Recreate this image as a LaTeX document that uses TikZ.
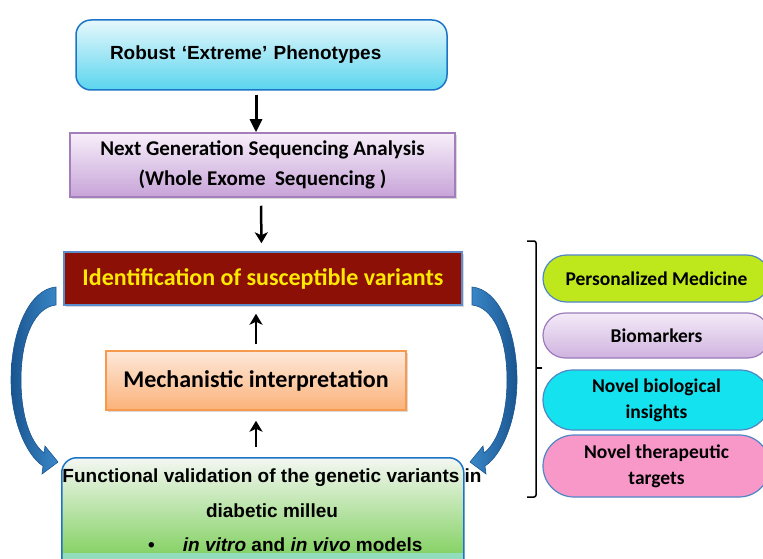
\documentclass[tikz,border=0pt]{standalone}
\usepackage{fontspec}
\setmainfont{Liberation Sans}
\newfontfamily\calibri{Carlito}
\usepackage{tikz}
\usetikzlibrary{shapes.misc, arrows.meta, positioning, calc, shadows}

\definecolor{phenotop}{HTML}{E6F8FC}
\definecolor{phenobot}{HTML}{5AD5EE}
\definecolor{edgeblue}{HTML}{1B74C5}
\definecolor{seqtop}{HTML}{F7EFFA}
\definecolor{seqbot}{HTML}{C7A3D8}
\definecolor{seqedge}{HTML}{A27FBA}
\definecolor{idfill}{HTML}{8C1006}
\definecolor{idedge}{HTML}{5C8CCB}
\definecolor{idtext}{HTML}{FFE900}
\definecolor{mechtop}{HTML}{FDE8DA}
\definecolor{mechbot}{HTML}{FBB279}
\definecolor{mechedge}{HTML}{F79A4E}
\definecolor{functop}{HTML}{F4F7F3}
\definecolor{funcbot}{HTML}{6BC943}
\definecolor{funcstrip}{HTML}{92DDBB}
\definecolor{curvedark}{HTML}{1A5590}
\definecolor{curvelight}{HTML}{3A88C8}
\definecolor{pmfill}{HTML}{BFE81C}
\definecolor{biotop}{HTML}{F4EAF8}
\definecolor{biobot}{HTML}{CFB3DF}
\definecolor{bioedge}{HTML}{9A7CBC}
\definecolor{nbifill}{HTML}{14E2EE}
\definecolor{nttfill}{HTML}{F798C8}
\definecolor{pilledge}{HTML}{4F86C6}

\tikzset{
    base/.style={align=center, inner sep=0pt},
    block/.style={base, rectangle, line width=1.5pt},
    phenobox/.style={block, rounded corners=15pt, draw=edgeblue, top color=phenotop, bottom color=phenobot,
        font=\fontsize{19}{23}\selectfont\bfseries, minimum width=371pt, minimum height=70pt,
        text width=303pt, align=left, inner xsep=34pt},
    seqbox/.style={block, draw=seqedge, top color=seqtop, bottom color=seqbot,
        font=\calibri\fontsize{21}{30}\selectfont\bfseries, minimum width=385pt, minimum height=64pt,
        drop shadow={shadow xshift=1.5pt, shadow yshift=-2pt, opacity=0.3}},
    idbox/.style={block, draw=idedge, fill=idfill, text=idtext,
        font=\calibri\fontsize{24}{30}\selectfont\bfseries, minimum width=398pt, minimum height=53pt,
        drop shadow={shadow xshift=1.5pt, shadow yshift=-2pt, opacity=0.3}},
    mechbox/.style={block, draw=mechedge, top color=mechtop, bottom color=mechbot,
        font=\calibri\fontsize{24}{30}\selectfont\bfseries, minimum width=300pt, minimum height=59pt,
        drop shadow={shadow xshift=1.5pt, shadow yshift=-2pt, opacity=0.3}},
    funcbox/.style={block, rounded corners=15pt, draw=edgeblue, top color=functop, bottom color=funcbot,
        minimum width=402pt, minimum height=120pt},
    functext/.style={base, font=\fontsize{19}{34.5}\selectfont\bfseries},
    pill/.style={base, rounded rectangle, line width=1.2pt, draw=pilledge,
        font=\calibri\fontsize{19.5}{26}\selectfont\bfseries, minimum width=227pt},
    line/.style={draw=black, line width=3pt, -{Stealth[length=11pt, width=13pt, inset=3pt]}},
    curvearrow/.style={left color=curvedark, right color=curvelight, draw=curvedark, line width=0.6pt},
    bracket/.style={draw=black, line width=1.5pt}
}

\begin{document}
\begin{tikzpicture}[x=1pt, y=-1pt]
    \useasboundingbox (0,0) rectangle (763,559);
    \clip (0,0) rectangle (763,559);

    % main column
    \node [phenobox] (pheno) at (261.5,55) {Robust ‘Extreme’ Phenotypes};
    \node [seqbox] (ngs) at (262.5,165) {Next Generation Sequencing Analysis\\(Whole Exome\ \ Sequencing )};
    \node [idbox] (ident) at (263,278.5) {Identification of susceptible variants};
    \node [mechbox] (mech) at (256,380.5) {Mechanistic interpretation};
    \node [funcbox, anchor=north west] (func) at (61,457) {};
    \fill [funcstrip] ([yshift=-96pt]func.north west) ++(2pt,0) rectangle ([xshift=-2pt]func.south east);
    \node [functext, anchor=north] (functop) at (272,469) {Functional validation of the genetic variants in\\diabetic milleu};
    \node [functext, anchor=west] (funcmodels) at (148,545)
        {\textbullet\hspace{28pt}\textit{in vitro} and \textit{in vivo} models};

    % straight arrows
    \draw [line, -{Triangle[length=13pt, width=12pt]}, shorten <=4pt] (pheno.south -| mech.north) -- (ngs.north -| mech.north);
    \draw [line, line width=2.5pt, shorten <=8pt, shorten >=8pt] ([xshift=-1.5pt]ngs.south) -- ([xshift=-1.5pt]ident.north);
    \draw [line, line width=2.5pt, shorten <=6pt, shorten >=8pt] (mech.north) -- (mech.north |- ident.south);
    \draw [line, line width=2.5pt, shorten <=10pt, shorten >=10pt] (func.north -| mech.south) -- (mech.south);

    % curved block arrows around the loop
    \path [curvearrow] (56,287) .. controls (30,289) and (11,330) .. (11,380)
        .. controls (11,420) and (26,455) .. (43,466) -- (42,474) -- (58,462) -- (45,446) -- (44,453)
        .. controls (30,442) and (21,415) .. (21,380)
        .. controls (21,335) and (36,307) .. (56,305) -- cycle;
    \begin{scope}[shift={(528,0)}, xscale=-1]
        \path [curvearrow, left color=curvelight, right color=curvedark] (56,287) .. controls (30,289) and (11,330) .. (11,380)
            .. controls (11,420) and (26,455) .. (43,466) -- (42,474) -- (58,462) -- (45,446) -- (44,453)
            .. controls (30,442) and (21,415) .. (21,380)
            .. controls (21,335) and (36,307) .. (56,305) -- cycle;
    \end{scope}

    % outcomes
    \node [pill, fill=pmfill, minimum height=47pt] (pm) at (656.5,278.5) {Personalized Medicine};
    \node [pill, draw=bioedge, top color=biotop, bottom color=biobot, minimum height=45pt] (bio) at (656.5,335.5) {Biomarkers};
    \node [pill, fill=nbifill, minimum height=60pt] (nbi) at (656.5,400) {Novel biological\\insights};
    \node [pill, fill=nttfill, minimum height=62pt] (ntt) at (656.5,466) {Novel therapeutic\\targets};

    % bracket collecting the outcomes
    \coordinate (brtop) at (527,241);
    \coordinate (brbot) at (527,497);
    \coordinate (brmid) at (536,368);
    \draw [bracket, rounded corners=2pt] (brtop) -- ++(9,0) -- ($(brbot)+(9,0)$) -- (brbot);
    \draw [bracket, line width=2pt] (brmid) -- (brmid -| pm.west);
\end{tikzpicture}
\end{document}
